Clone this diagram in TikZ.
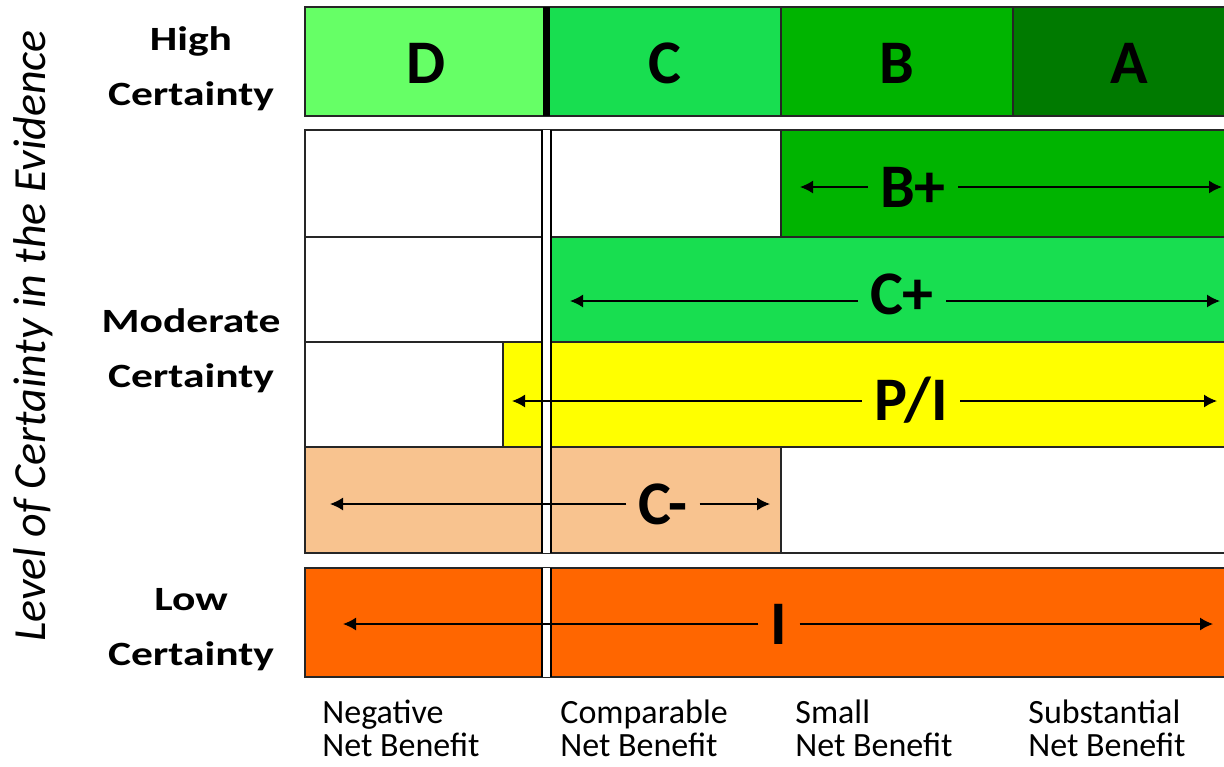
\documentclass[tikz,border=0pt]{standalone}
\usepackage{fontspec}
\setmainfont{Carlito}
\newfontfamily\sidefont[FakeStretch=1.28]{Carlito}
\usetikzlibrary{arrows.meta}
\definecolor{gradeD}{RGB}{102,255,102}
\definecolor{gradeC}{RGB}{24,222,80}
\definecolor{gradeB}{RGB}{0,180,0}
\definecolor{gradeA}{RGB}{0,122,0}
\definecolor{gradePI}{RGB}{255,255,0}
\definecolor{gradeCm}{RGB}{248,195,143}
\definecolor{gradeI}{RGB}{255,102,0}

\begin{document}
\begin{tikzpicture}[x=0.5pt,y=-0.5pt,
    cell/.style={draw=black!85,line width=0.8pt},
    grade/.style={font=\fontsize{31}{31}\selectfont\bfseries,text height=20pt,text depth=0pt,inner xsep=6pt,inner ysep=0pt},
    side/.style={font=\sidefont\fontsize{17}{27.5}\selectfont\bfseries,align=center,inner sep=0pt},
    benefit/.style={font=\fontsize{17}{16.5}\selectfont,align=left,anchor=base west,inner sep=0pt},
    arr/.style={-{Latex[length=6.5pt,width=6.5pt]},line width=0.75pt},
    split/.style={double,double distance=3.5pt,line width=1pt}]
\useasboundingbox (0,0) rectangle (1224,766);
\clip (0,0) rectangle (1224,766);

% high certainty
\filldraw[cell,fill=gradeD] (305,7) rectangle (546.5,116);
\filldraw[cell,fill=gradeC] (546.5,7) rectangle (781,116);
\filldraw[cell,fill=gradeB] (781,7) rectangle (1013,116);
\filldraw[cell,fill=gradeA] (1013,7) rectangle (1245,116);
\draw[line width=3.5pt] (546.5,7) -- (546.5,116);
\node[grade] (D) at (426,63) {D};
\node[grade] (C) at (665,63) {C};
\node[grade] (B) at (897,63) {B};
\node[grade] (A) at (1129,63) {A};

% moderate certainty
\filldraw[cell,fill=white] (305,130) rectangle (546.5,237);
\filldraw[cell,fill=white] (546.5,130) rectangle (781,237);
\filldraw[cell,fill=gradeB] (781,130) rectangle (1245,237);
\filldraw[cell,fill=white] (305,237) rectangle (546.5,342);
\filldraw[cell,fill=gradeC] (546.5,237) rectangle (1245,342);
\filldraw[cell,fill=white] (305,342) rectangle (503,447);
\filldraw[cell,fill=gradePI] (503,342) rectangle (1245,447);
\filldraw[cell,fill=gradeCm] (305,447) rectangle (781,553);
\filldraw[cell,fill=white] (781,447) rectangle (1245,553);
\draw[split] (546.5,130) -- (546.5,553);

\node[grade] (Bp) at (913,187) {B+};
\coordinate (Bp-l) at (800,187);
\coordinate (Bp-r) at (1222,187);
\draw[arr] (Bp) -- (Bp-l);
\draw[arr] (Bp) -- (Bp-r);

\node[grade] (Cp) at (902,294) {C+};
\coordinate (Cp-l) at (570,301);
\coordinate (Cp-r) at (1220,301);
\draw[arr] (Cp.west |- Cp-l) -- (Cp-l);
\draw[arr] (Cp.east |- Cp-r) -- (Cp-r);

\node[grade] (PI) at (911,400) {P/I};
\coordinate (PI-l) at (512,401);
\coordinate (PI-r) at (1217,401);
\draw[arr] (PI.west |- PI-l) -- (PI-l);
\draw[arr] (PI.east |- PI-r) -- (PI-r);

\node[grade] (Cm) at (663,504) {C-};
\coordinate (Cm-l) at (330,504);
\coordinate (Cm-r) at (770,504);
\draw[arr] (Cm) -- (Cm-l);
\draw[arr] (Cm) -- (Cm-r);

% low certainty
\filldraw[cell,fill=gradeI] (305,568) rectangle (1245,677);
\draw[split] (546.5,568) -- (546.5,677);
\node[grade] (I) at (779,624) {I};
\coordinate (I-l) at (343,624);
\coordinate (I-r) at (1213,624);
\draw[arr] (I) -- (I-l);
\draw[arr] (I) -- (I-r);

% labels
\node[side] (high) at (191,69) {High\\Certainty};
\node[side] (moderate) at (191,351) {Moderate\\Certainty};
\node[side] (low) at (191,630) {Low\\Certainty};
\node[rotate=90,anchor=base,inner sep=0pt,font=\fontsize{23}{23}\selectfont\itshape] (level) at (45,336) {Level of Certainty in the Evidence};

\node[benefit] (neg) at (322,756) {Negative\\Net Benefit};
\node[benefit] (comp) at (560,756) {Comparable\\Net Benefit};
\node[benefit] (small) at (795,756) {Small\\Net Benefit};
\node[benefit] (subst) at (1028,756) {Substantial\\Net Benefit};
\end{tikzpicture}
\end{document}
